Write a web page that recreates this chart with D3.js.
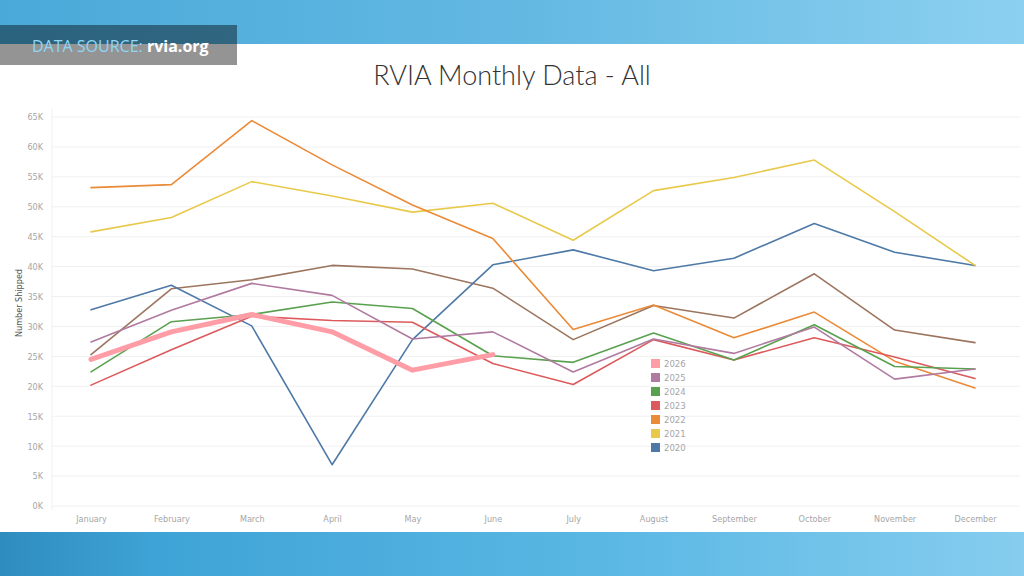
<!DOCTYPE html>
<html>
<head>
<meta charset="utf-8">
<script src="https://cdn.jsdelivr.net/npm/d3@7"></script>
<style>
  html, body { margin: 0; padding: 0; background: #fff; }
  svg { display: block; }
</style>
</head>
<body>
<svg id="chart"></svg>
<script>
// RVIA monthly shipments, in thousands
const months = ["January", "February", "March", "April", "May", "June",
                "July", "August", "September", "October", "November", "December"];
const years = ["2026", "2025", "2024", "2023", "2022", "2021", "2020"];
const y2019 = [25.3, 36.3, 37.8, 40.2, 39.6, 36.4, 27.8, 33.5, 31.4, 38.8, 29.4, 27.3];
const y2020 = [32.8, 36.9, 30.1, 6.9, 27.8, 40.3, 42.8, 39.3, 41.4, 47.2, 42.4, 40.2];
const y2021 = [45.8, 48.2, 54.2, 51.8, 49.1, 50.6, 44.4, 52.7, 54.9, 57.8, 49.2, 40.2];
const y2022 = [53.2, 53.7, 64.4, 57.0, 50.3, 44.7, 29.5, 33.6, 28.1, 32.4, 24.2, 19.7];
const y2023 = [20.2, 26.1, 31.7, 31.0, 30.7, 23.8, 20.3, 27.8, 24.4, 28.1, 24.9, 21.3];
const y2024 = [22.4, 30.8, 32.0, 34.1, 33.0, 25.1, 24.0, 28.9, 24.4, 30.3, 23.3, 22.9];
const y2025 = [27.4, 32.7, 37.2, 35.2, 27.9, 29.1, 22.4, 27.9, 25.5, 29.9, 21.2, 22.9];
const y2026 = [24.5, 29.1, 32.0, 29.1, 22.7, 25.3];
const yTicks = [0, 5, 10, 15, 20, 25, 30, 35, 40, 45, 50, 55, 60, 65];

const colors = {
  "2019": "#9c755f", "2020": "#4e79a7", "2021": "#e8c94a", "2022": "#eb8a37",
  "2023": "#dc5a5c", "2024": "#59a14f", "2025": "#b07aa1", "2026": "#ff9da7"
};

// draw order: oldest first so 2026 ends on top
const series = [
  { year: "2019", values: y2019 },
  { year: "2020", values: y2020 },
  { year: "2021", values: y2021 },
  { year: "2022", values: y2022 },
  { year: "2023", values: y2023 },
  { year: "2024", values: y2024 },
  { year: "2025", values: y2025 },
  { year: "2026", values: y2026 }
];

const W = 1024, H = 576;
const svg = d3.select("#chart").attr("width", W).attr("height", H);
const defs = svg.append("defs");

const gTop = defs.append("linearGradient").attr("id", "bandTop").attr("x1", 0).attr("x2", 1);
gTop.append("stop").attr("offset", 0).attr("stop-color", "#4aa9d9");
gTop.append("stop").attr("offset", 0.5).attr("stop-color", "#62b8e2");
gTop.append("stop").attr("offset", 1).attr("stop-color", "#8cd0f0");
const gBot = defs.append("linearGradient").attr("id", "bandBot").attr("x1", 0).attr("x2", 1);
gBot.append("stop").attr("offset", 0).attr("stop-color", "#2f8cbf");
gBot.append("stop").attr("offset", 0.15).attr("stop-color", "#3ea3d6");
gBot.append("stop").attr("offset", 0.6).attr("stop-color", "#5bb8e4");
gBot.append("stop").attr("offset", 1).attr("stop-color", "#86cdef");

// backdrop
svg.append("rect").attr("width", W).attr("height", 44).attr("fill", "url(#bandTop)");
svg.append("rect").attr("y", 532).attr("width", W).attr("height", 44).attr("fill", "url(#bandBot)");

// data source tag
svg.append("rect").attr("x", 0).attr("y", 25).attr("width", 237).attr("height", 40)
  .attr("fill", "#000").attr("opacity", 0.42);
const tag = svg.append("text").attr("x", 32).attr("y", 52)
  .style("font-family", "'Open Sans', Lato, sans-serif").style("font-size", "16px");
tag.append("tspan").attr("fill", "#8fd6f4").text("DATA SOURCE: ");
tag.append("tspan").attr("fill", "#fff").style("font-weight", 700).text("rvia.org");

// title
svg.append("text").attr("x", 512).attr("y", 85).attr("text-anchor", "middle")
  .style("font-family", "Lato, 'Open Sans', sans-serif").style("font-weight", 300)
  .style("font-size", "27px").attr("fill", "#333").text("RVIA Monthly Data - All");

const x = d3.scalePoint().domain(months).range([91, 975]);
const y = d3.scaleLinear().domain([0, 65]).range([506, 117]);

const tickFont = "'Liberation Sans Narrow', 'DejaVu Sans Condensed', Roboto, sans-serif";

// gridlines
svg.append("g").selectAll("line").data(yTicks).join("line")
  .attr("x1", 52).attr("x2", 1020)
  .attr("y1", d => y(d)).attr("y2", d => y(d))
  .attr("stroke", "#f0f0f0").attr("stroke-width", 1);
svg.append("line").attr("x1", 52).attr("x2", 52).attr("y1", 108).attr("y2", 510)
  .attr("stroke", "#f0f0f0");

// y axis
const yAxis = svg.append("g").attr("transform", "translate(46,0)")
  .call(d3.axisLeft(y).tickValues(yTicks).tickSize(0).tickFormat(d => d + "K"));
yAxis.select(".domain").remove();
yAxis.selectAll("text").attr("fill", "#a6a6a6")
  .style("font-family", tickFont).style("font-size", "9px");

svg.append("text").attr("transform", "translate(22,303) rotate(-90)")
  .attr("text-anchor", "middle").attr("fill", "#555")
  .style("font-family", tickFont).style("font-size", "9px").text("Number Shipped");

// x axis
const xAxis = svg.append("g").attr("transform", "translate(0,513)")
  .call(d3.axisBottom(x).tickSize(0));
xAxis.select(".domain").remove();
xAxis.selectAll("text").attr("fill", "#a6a6a6")
  .style("font-family", tickFont).style("font-size", "9px");

// lines
const line = d3.line().x((d, i) => x(months[i])).y(d => y(d));
svg.append("g").selectAll("path").data(series).join("path")
  .attr("d", d => line(d.values))
  .attr("fill", "none")
  .attr("stroke", d => colors[d.year])
  .attr("stroke-width", d => d.year === "2026" ? 5 : 1.6)
  .attr("stroke-linejoin", "round").attr("stroke-linecap", "round");

// legend
const legend = svg.append("g").attr("transform", "translate(651,359)");
const item = legend.selectAll("g").data(years).join("g")
  .attr("transform", (d, i) => `translate(0,${i * 14})`);
item.append("rect").attr("width", 9).attr("height", 9).attr("fill", d => colors[d]);
item.append("text").attr("x", 13).attr("y", 8).attr("fill", "#a6a6a6")
  .style("font-family", tickFont).style("font-size", "9.5px").text(d => d);
</script>
</body>
</html>
